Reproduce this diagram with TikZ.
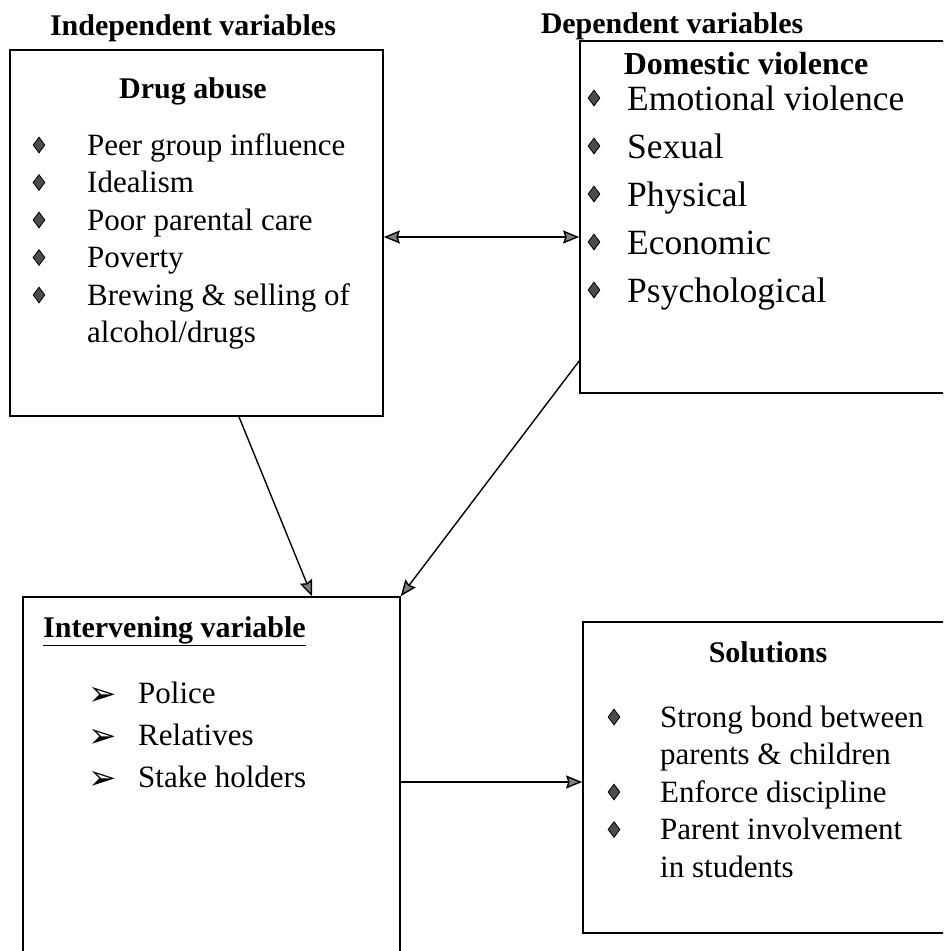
\documentclass[tikz,border=0pt]{standalone}
\usepackage{fontspec}
\setmainfont{Liberation Serif}
\newfontfamily\symfont{DejaVu Sans}
\usetikzlibrary{arrows.meta,shapes.geometric}

\begin{document}
\begin{tikzpicture}[x=1pt, y=-1pt,
    box/.style={draw, line width=1.7pt, inner sep=0pt},
    head/.style={font=\bfseries\fontsize{30}{36}\selectfont, anchor=base, inner sep=0pt},
    item/.style={font=\fontsize{31}{37}\selectfont, anchor=base west, inner sep=0pt},
    bigitem/.style={font=\fontsize{35.5}{42}\selectfont, anchor=base west, inner sep=0pt},
    bul/.style={diamond, draw, fill=black!70, line width=0.8pt, inner sep=0pt, minimum width=12pt, minimum height=16pt},
    tip/.style={-{Stealth[length=16pt, width=13pt, inset=2pt, fill=black!50]}, line width=1.4pt},
    tips/.style={{Stealth[length=16pt, width=13pt, inset=2pt, fill=black!50]}-{Stealth[length=16pt, width=13pt, inset=2pt, fill=black!50]}, line width=1.4pt}]

\useasboundingbox (0,0) rectangle (943,951);
\clip (0,0) rectangle (943,951);
\fill[white] (0,0) rectangle (943,951);

\node[box, minimum width=373pt, minimum height=366pt] at (196.5,233)   (drug)   {};
\node[box, minimum width=380pt, minimum height=352pt] at (770,217)     (dom)    {};
\node[box, minimum width=377pt, minimum height=393pt] at (211.5,793.5) (interv) {};
\node[box, minimum width=377pt, minimum height=311pt] at (771.5,777.5) (sol)    {};

\node[head] at (193,35) (indep)    {Independent variables};
\node[head] at (672,33) (dep)      {Dependent variables};
\node[head] at (193,98) (drugtitle) {Drug abuse};
\node[head, font=\bfseries\fontsize{32}{38}\selectfont] at (746,74) (domtitle) {Domestic violence};
\node[head, anchor=base west] at (43,637) (ivtitle) {\underline{Intervening variable}};
\node[head] at (768,662) (soltitle) {Solutions};

\foreach \txt [count=\i] in {Peer group influence, Idealism, Poor parental care, Poverty, Brewing \& selling of, alcohol/drugs}
    \node[item] at (87,117.5+37.5*\i) (drug\i) {\txt};
\foreach \i in {1,...,5}
    \node[bul] at (39,107.5+37.5*\i) (drugbul\i) {};

\foreach \txt [count=\i] in {Emotional violence, Sexual, Physical, Economic, Psychological}
    \node[bigitem] at (627,62+48*\i) (dom\i) {\txt};
\foreach \i in {1,...,5}
    \node[bul] at (594,50+48*\i) (dombul\i) {};

\foreach \txt [count=\i] in {Police, Relatives, Stake holders}
    \node[item] at (138,661+42*\i) (iv\i) {\txt};
\foreach \i in {1,2,3}
    \node[anchor=base, inner sep=0pt, font=\symfont\fontsize{34}{38}\selectfont] at (103,663+42*\i) (ivbul\i) {➢};

\foreach \txt [count=\i] in {Strong bond between, parents \& children, Enforce discipline, Parent involvement, in students}
    \node[item] at (660,689.5+37.5*\i) (sol\i) {\txt};
\foreach \y [count=\i] in {717,792,829.5}
    \node[bul] at (614,\y) (solbul\i) {};

\draw[tips] ([yshift=-4pt]drug.east) -- ([yshift=-4pt]drug.east -| dom.west);
\draw[tip] ([xshift=42.5pt]drug.south) -- ([xshift=100.5pt]interv.north);
\draw[tip] ([yshift=-144pt]dom.west) -- (interv.north east);
\draw[tip] ([yshift=11.5pt]interv.east) -- ([yshift=11.5pt]interv.east -| sol.west);

\end{tikzpicture}
\end{document}
